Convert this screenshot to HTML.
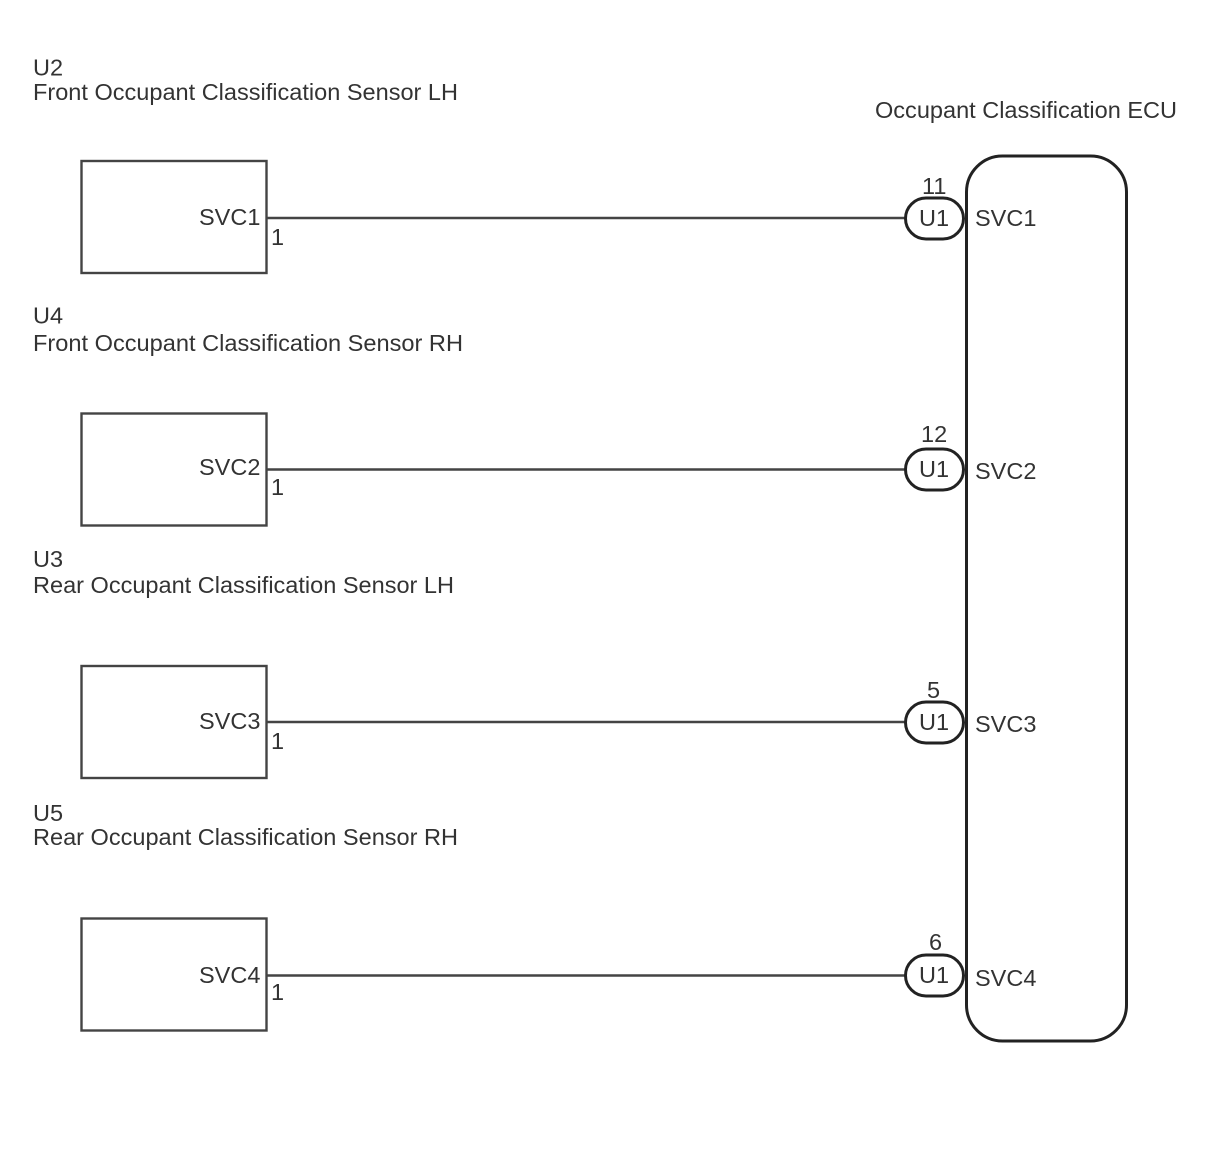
<!DOCTYPE html>
<html>
<head>
<meta charset="utf-8">
<style>
html,body{margin:0;padding:0;background:#fff;}
svg{display:block;}
text{font-family:"Liberation Sans",sans-serif;font-size:23.5px;fill:#333;}
</style>
</head>
<body>
<svg width="1210" height="1156" viewBox="0 0 1210 1156" xmlns="http://www.w3.org/2000/svg">
<rect x="0" y="0" width="1210" height="1156" fill="#fff"/>
<g fill="none" stroke="#444" stroke-width="2.4">
<rect x="81.5" y="161" width="185" height="112"/>
<rect x="81.5" y="413.500" width="185" height="112"/>
<rect x="81.5" y="666" width="185" height="112"/>
<rect x="81.5" y="918.500" width="185" height="112"/>
<line x1="267" y1="218" x2="905" y2="218"/>
<line x1="267" y1="469.500" x2="905" y2="469.500"/>
<line x1="267" y1="722" x2="905" y2="722"/>
<line x1="267" y1="975.500" x2="905" y2="975.500"/>
</g>
<g fill="#fff" stroke="#222" stroke-width="3">
<rect x="966.500" y="156" width="160" height="885" rx="36" ry="36"/>
<rect x="905.500" y="198" width="58" height="41" rx="20.500" ry="20.500"/>
<rect x="905.500" y="449" width="58" height="41" rx="20.500" ry="20.500"/>
<rect x="905.500" y="702" width="58" height="41" rx="20.500" ry="20.500"/>
<rect x="905.500" y="955" width="58" height="41" rx="20.500" ry="20.500"/>
</g>
<text x="33" y="75.500">U2</text>
<text x="33" y="100" textLength="425" lengthAdjust="spacingAndGlyphs">Front Occupant Classification Sensor LH</text>
<text x="33" y="323.500">U4</text>
<text x="33" y="351" textLength="430" lengthAdjust="spacingAndGlyphs">Front Occupant Classification Sensor RH</text>
<text x="33" y="567">U3</text>
<text x="33" y="593" textLength="421" lengthAdjust="spacingAndGlyphs">Rear Occupant Classification Sensor LH</text>
<text x="33" y="821">U5</text>
<text x="33" y="845" textLength="425" lengthAdjust="spacingAndGlyphs">Rear Occupant Classification Sensor RH</text>
<text x="875" y="118" textLength="302" lengthAdjust="spacingAndGlyphs">Occupant Classification ECU</text>
<text x="199" y="225">SVC1</text>
<text x="199" y="475">SVC2</text>
<text x="199" y="729">SVC3</text>
<text x="199" y="983">SVC4</text>
<text x="271" y="245">1</text>
<text x="271" y="495">1</text>
<text x="271" y="749">1</text>
<text x="271" y="1000">1</text>
<text x="922" y="194">11</text>
<text x="921" y="442">12</text>
<text x="927" y="698">5</text>
<text x="929" y="950">6</text>
<text x="919" y="226">U1</text>
<text x="919" y="477">U1</text>
<text x="919" y="730">U1</text>
<text x="919" y="983">U1</text>
<text x="975" y="226">SVC1</text>
<text x="975" y="479">SVC2</text>
<text x="975" y="732">SVC3</text>
<text x="975" y="986">SVC4</text>
</svg>
</body>
</html>
